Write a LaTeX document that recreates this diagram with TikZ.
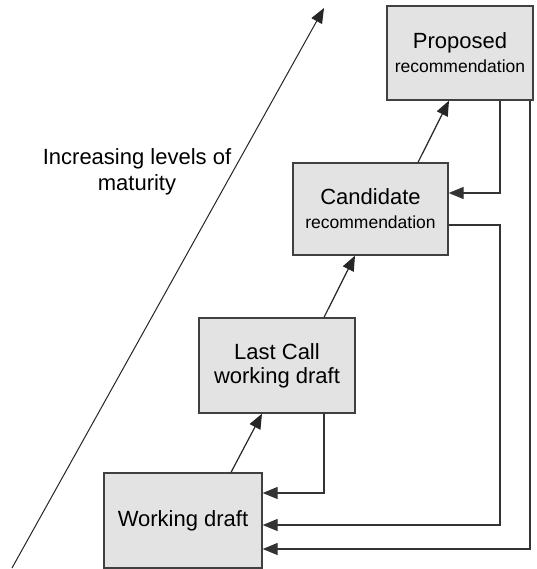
\documentclass[tikz,border=0pt]{standalone}
\usepackage{fontspec}
\setmainfont{Liberation Sans}
\usetikzlibrary{arrows.meta}
\begin{document}
\begin{tikzpicture}[x=1pt,y=-1pt,
  stagebox/.style={draw=black!75,line width=1.3pt,fill=black!11,align=center,
    inner sep=0pt,font=\fontsize{22}{24}\selectfont},
  link/.style={draw=black!85,line width=1.2pt,-{Triangle[length=15pt,width=12pt]}},
  flow/.style={draw=black!80,line width=1.2pt,-{Triangle[length=15pt,width=12pt]}}
]
\useasboundingbox (0,0) rectangle (536,569);

% stages of a document
\node[stagebox,minimum width=158pt,minimum height=95pt] (wd) at (183,520.5) {Working draft};
\node[stagebox,minimum width=156pt,minimum height=95pt] (lc) at (277,365.5) {Last Call\\working draft};
\node[stagebox,minimum width=155pt,minimum height=92pt] (cd) at (370.5,209)
  {Candidate\\{\fontsize{17.5}{22}\selectfont recommendation}};
\node[stagebox,minimum width=146pt,minimum height=94pt] (pr) at (460,53)
  {Proposed\\{\fontsize{17.5}{22}\selectfont recommendation}};

% maturity axis
\coordinate (m0) at (12,568);
\coordinate (m1) at (324,8);
\draw[link,line width=1pt] (m0) -- (m1);
\node[align=center,font=\fontsize{22}{26}\selectfont,inner sep=0pt] (lbl) at (137,172)
  {Increasing levels of\\maturity};

% promotion steps
\draw[link] ([xshift=48pt]wd.north) -- ([xshift=-15pt]lc.south);
\draw[link] ([xshift=47pt]lc.north) -- ([xshift=-15.5pt]cd.south);
\draw[link] ([xshift=47.5pt]cd.north) -- ([xshift=-11pt]pr.south);

% returns to earlier stages
\coordinate (r1) at ([xshift=40pt]pr.south);
\coordinate (r2) at ([xshift=70pt]pr.south);
\draw[flow] (r1) |- ([yshift=16pt]cd.east);
\draw[flow] ([yshift=-16pt]cd.east) -- ([yshift=-16pt]cd.east -| r1) |- ([yshift=-4.5pt]wd.east);
\draw[flow] (r2) |- ([yshift=-28.5pt]wd.east);
\draw[flow] ([xshift=47pt]lc.south) |- ([yshift=27.5pt]wd.east);
\end{tikzpicture}
\end{document}
